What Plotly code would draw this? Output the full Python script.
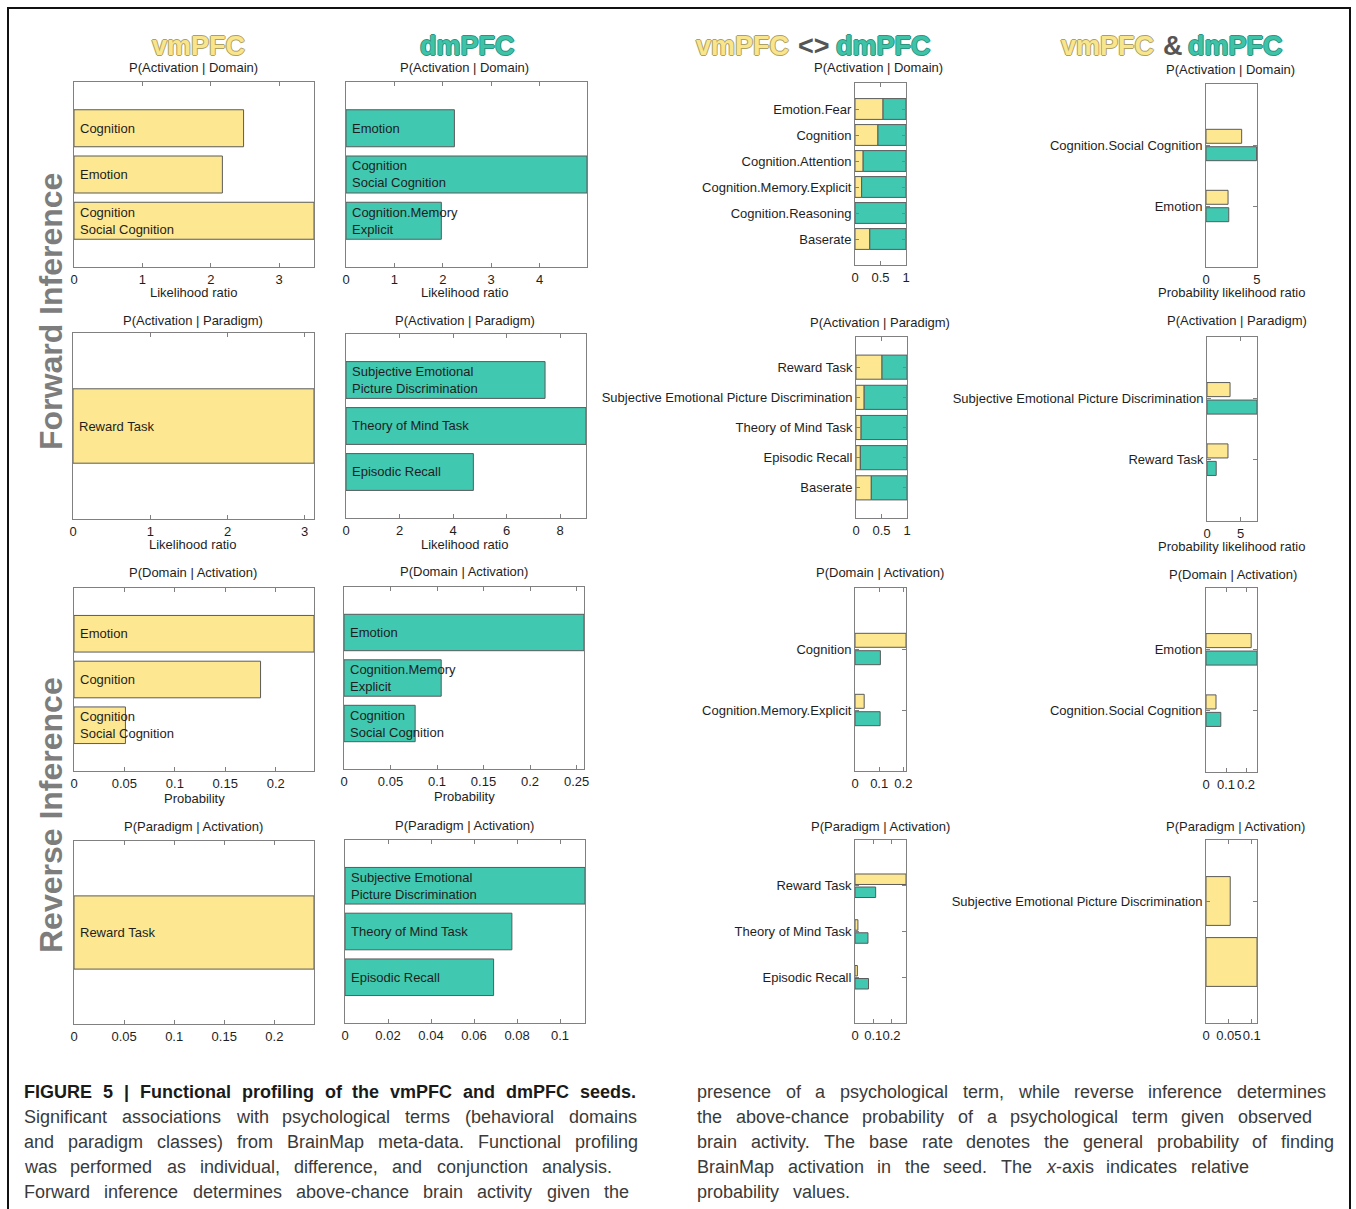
import re
import plotly.graph_objects as go

W, H = 1356, 1209
YEL = "#FDE891"
TEAL = "#41C8B1"
EDGE = "#5a5a5a"
AXC = "#808080"
TXT = "#1e1e1e"
FONT = "Liberation Sans, Arial, Helvetica, sans-serif"

# ---------------- data ----------------
# Forward inference, P(Activation | Domain)
vm_dom_fwd_labels = ["Cognition", "Emotion", "Cognition<br>Social Cognition"]
vm_dom_fwd = [2.48, 2.17, 3.51]
dm_dom_fwd_labels = ["Emotion", "Cognition<br>Social Cognition", "Cognition.Memory<br>Explicit"]
dm_dom_fwd = [2.24, 4.98, 1.97]
diff_dom_fwd_labels = ["Emotion.Fear", "Cognition", "Cognition.Attention",
                       "Cognition.Memory.Explicit", "Cognition.Reasoning", "Baserate"]
diff_dom_fwd_vm = [0.55, 0.45, 0.16, 0.13, 0.0, 0.29]
diff_dom_fwd_dm = [0.45, 0.55, 0.84, 0.87, 1.0, 0.71]
conj_dom_fwd_labels = ["Cognition.Social Cognition", "Emotion"]
conj_dom_fwd_vm = [3.51, 2.17]
conj_dom_fwd_dm = [4.98, 2.24]

# Forward inference, P(Activation | Paradigm)
vm_par_fwd_labels = ["Reward Task"]
vm_par_fwd = [3.12]
dm_par_fwd_labels = ["Subjective Emotional<br>Picture Discrimination", "Theory of Mind Task", "Episodic Recall"]
dm_par_fwd = [7.44, 8.97, 4.76]
diff_par_fwd_labels = ["Reward Task", "Subjective Emotional Picture Discrimination",
                       "Theory of Mind Task", "Episodic Recall", "Baserate"]
diff_par_fwd_vm = [0.51, 0.16, 0.10, 0.085, 0.30]
diff_par_fwd_dm = [0.49, 0.84, 0.90, 0.915, 0.70]
conj_par_fwd_labels = ["Subjective Emotional Picture Discrimination", "Reward Task"]
conj_par_fwd_vm = [3.43, 3.12]
conj_par_fwd_dm = [7.44, 1.37]

# Reverse inference, P(Domain | Activation)
vm_dom_rev_labels = ["Emotion", "Cognition", "Cognition<br>Social Cognition"]
vm_dom_rev = [0.238, 0.185, 0.051]
dm_dom_rev_labels = ["Emotion", "Cognition.Memory<br>Explicit", "Cognition<br>Social Cognition"]
dm_dom_rev = [0.258, 0.1045, 0.0765]
diff_dom_rev_labels = ["Cognition", "Cognition.Memory.Explicit"]
diff_dom_rev_vm = [0.211, 0.038]
diff_dom_rev_dm = [0.105, 0.104]
conj_dom_rev_labels = ["Emotion", "Cognition.Social Cognition"]
conj_dom_rev_vm = [0.226, 0.050]
conj_dom_rev_dm = [0.255, 0.074]

# Reverse inference, P(Paradigm | Activation)
vm_par_rev_labels = ["Reward Task"]
vm_par_rev = [0.2396]
dm_par_rev_labels = ["Subjective Emotional<br>Picture Discrimination", "Theory of Mind Task", "Episodic Recall"]
dm_par_rev = [0.1116, 0.0776, 0.0691]
diff_par_rev_labels = ["Reward Task", "Theory of Mind Task", "Episodic Recall"]
diff_par_rev_vm = [0.279, 0.016, 0.013]
diff_par_rev_dm = [0.113, 0.071, 0.074]
conj_par_rev_labels = ["Subjective Emotional Picture Discrimination"]
conj_par_rev_vm = [0.053, 0.1116]

# tick values
ticks_A1 = [0, 1, 2, 3]
ticks_A2 = [0, 1, 2, 3, 4]
ticks_frac = [0, 0.5, 1]
ticks_conj_fwd = [0, 5]
ticks_B1 = [0, 1, 2, 3]
ticks_B2 = [0, 2, 4, 6, 8]
ticks_C1 = [0, 0.05, 0.1, 0.15, 0.2]
ticks_C2 = [0, 0.05, 0.1, 0.15, 0.2, 0.25]
ticks_C34 = [0, 0.1, 0.2]
ticks_D1 = [0, 0.05, 0.1, 0.15, 0.2]
ticks_D2 = [0, 0.02, 0.04, 0.06, 0.08, 0.1]
ticks_D3 = [0, 0.1, 0.2]
ticks_D4 = [0, 0.05, 0.1]

caption_left = [
    "FIGURE 5 | Functional profiling of the vmPFC and dmPFC seeds.",
    "Significant associations with psychological terms (behavioral domains",
    "and paradigm classes) from BrainMap meta-data. Functional profiling",
    "was performed as individual, difference, and conjunction analysis.",
    "Forward inference determines above-chance brain activity given the",
]
caption_right = [
    "presence of a psychological term, while reverse inference determines",
    "the above-chance probability of a psychological term given observed",
    "brain activity. The base rate denotes the general probability of finding",
    "BrainMap activation in the seed. The <i>x</i>-axis indicates relative",
    "probability values.",
]

# ---------------- helpers ----------------
fig = go.Figure()
_axn = [0]


def P(x, y):
    return x / W, 1 - y / H


def add_axes(box, n, xmax, xticks, ylabels=None, ytickpos=None):
    _axn[0] += 1
    i = _axn[0]
    s = "" if i == 1 else str(i)
    x0, x1, y0, y1 = box
    pos = ytickpos if ytickpos is not None else list(range(1, n + 1))
    common = dict(showline=True, linecolor=AXC, linewidth=1, mirror="allticks",
                  ticklen=4, tickcolor=AXC, tickwidth=1,
                  showgrid=False, zeroline=False, fixedrange=True,
                  automargin=False, tickfont=dict(family=FONT, size=13, color=TXT))
    fig.update_layout(**{
        "xaxis" + s: dict(domain=[x0 / W, x1 / W], anchor="y" + s, range=[0, xmax],
                          ticks="inside", tickmode="array", tickvals=xticks, tickangle=0,
                          **common),
        "yaxis" + s: dict(domain=[1 - y1 / H, 1 - y0 / H], anchor="x" + s, range=[n + 1, 0],
                          ticks="inside" if ylabels else "",
                          tickmode="array", tickvals=pos,
                          ticktext=ylabels if ylabels else [""] * len(pos),
                          showticklabels=bool(ylabels), **common),
    })
    return "x" + s, "y" + s


def bars(xa, ya, vals, color, offset, width, base=None):
    fig.add_trace(go.Bar(x=vals, y=list(range(1, len(vals) + 1)), orientation="h",
                         xaxis=xa, yaxis=ya, base=base, offset=offset, width=width,
                         marker=dict(color=color, line=dict(color=EDGE, width=1)),
                         hoverinfo="skip", showlegend=False))


def inbar(xa, ya, labels):
    for k, lab in enumerate(labels):
        fig.add_annotation(xref=xa, yref=ya, x=0, y=k + 1, text=lab, xanchor="left",
                           yanchor="middle", xshift=4, showarrow=False, align="left",
                           font=dict(family=FONT, size=13, color=TXT))


def ptext(x, y, text, size=13, color=TXT, anchor="center", **fkw):
    px, py = P(x, y)
    fig.add_annotation(xref="paper", yref="paper", x=px, y=py, text=text, xanchor=anchor,
                       yanchor="middle", showarrow=False,
                       font=dict(family=FONT, size=size, color=color, **fkw))


def single_panel(box, labels, vals, color, xmax, xticks, title, tpos, xlabel=None, lpos=None):
    n = len(vals)
    xa, ya = add_axes(box, n, xmax, xticks)
    bars(xa, ya, vals, color, -0.4, 0.8)
    inbar(xa, ya, labels)
    ptext(tpos[0], tpos[1], title)
    if xlabel:
        ptext(lpos[0], lpos[1], xlabel)


def stacked_panel(box, labels, vm, dm, title, tpos):
    xa, ya = add_axes(box, len(vm), 1.0, ticks_frac, ylabels=labels)
    bars(xa, ya, vm, YEL, -0.4, 0.8)
    bars(xa, ya, dm, TEAL, -0.4, 0.8, base=vm)
    ptext(tpos[0], tpos[1], title)


def grouped_panel(box, labels, vm, dm, xmax, xticks, title, tpos, xlabel=None, lpos=None):
    xa, ya = add_axes(box, len(vm), xmax, xticks, ylabels=labels)
    bars(xa, ya, vm, YEL, -0.257, 0.229)
    bars(xa, ya, dm, TEAL, 0.028, 0.229)
    ptext(tpos[0], tpos[1], title)
    if xlabel:
        ptext(lpos[0], lpos[1], xlabel)


# ---------------- panels ----------------
T_AD = "P(Activation | Domain)"
T_AP = "P(Activation | Paradigm)"
T_DA = "P(Domain | Activation)"
T_PA = "P(Paradigm | Activation)"

single_panel((74, 314, 82, 267), vm_dom_fwd_labels, vm_dom_fwd, YEL, 3.51, ticks_A1,
             T_AD, (193, 68), "Likelihood ratio", (193, 293))
single_panel((346, 587, 82, 267), dm_dom_fwd_labels, dm_dom_fwd, TEAL, 4.98, ticks_A2,
             T_AD, (465, 68), "Likelihood ratio", (465, 293))
stacked_panel((855, 906, 83, 265), diff_dom_fwd_labels, diff_dom_fwd_vm, diff_dom_fwd_dm,
              T_AD, (879, 68))
grouped_panel((1206, 1257, 84, 267), conj_dom_fwd_labels, conj_dom_fwd_vm, conj_dom_fwd_dm,
              5.02, ticks_conj_fwd, T_AD, (1230, 70), "Probability likelihood ratio", (1231, 293))

single_panel((73, 314, 333, 519), vm_par_fwd_labels, vm_par_fwd, YEL, 3.12, ticks_B1,
             T_AP, (193, 320), "Likelihood ratio", (192, 545))
single_panel((346, 586, 334, 518), dm_par_fwd_labels, dm_par_fwd, TEAL, 8.97, ticks_B2,
             T_AP, (465, 320), "Likelihood ratio", (465, 545))
stacked_panel((856, 907, 337, 518), diff_par_fwd_labels, diff_par_fwd_vm, diff_par_fwd_dm,
              T_AP, (880, 322))
grouped_panel((1207, 1257, 337, 521), conj_par_fwd_labels, conj_par_fwd_vm, conj_par_fwd_dm,
              7.44, ticks_conj_fwd, T_AP, (1237, 321), "Probability likelihood ratio", (1231, 547))

single_panel((74, 314, 588, 771), vm_dom_rev_labels, vm_dom_rev, YEL, 0.238, ticks_C1,
             T_DA, (193, 573), "Probability", (194, 798))
single_panel((344, 584, 587, 769), dm_dom_rev_labels, dm_dom_rev, TEAL, 0.258, ticks_C2,
             T_DA, (464, 571), "Probability", (465, 796))
grouped_panel((855, 906, 588, 771), diff_dom_rev_labels, diff_dom_rev_vm, diff_dom_rev_dm,
              0.211, ticks_C34, T_DA, (880, 573))
grouped_panel((1206, 1257, 588, 772), conj_dom_rev_labels, conj_dom_rev_vm, conj_dom_rev_dm,
              0.255, ticks_C34, T_DA, (1233, 575))

single_panel((74, 314, 841, 1024), vm_par_rev_labels, vm_par_rev, YEL, 0.2396, ticks_D1,
             T_PA, (193, 826))
single_panel((345, 585, 840, 1023), dm_par_rev_labels, dm_par_rev, TEAL, 0.1116, ticks_D2,
             T_PA, (464, 825))
grouped_panel((855, 906, 840, 1023), diff_par_rev_labels, diff_par_rev_vm, diff_par_rev_dm,
              0.279, ticks_D3, T_PA, (880, 826))
# conjunction reverse paradigm: one series of two bars
xa, ya = add_axes((1206, 1257, 840, 1023), 2, 0.1116, ticks_D4,
                  ylabels=conj_par_rev_labels, ytickpos=[1])
bars(xa, ya, conj_par_rev_vm, YEL, -0.4, 0.8)
ptext(1235, 826, T_PA)

# ---------------- headers ----------------
def outline(c):
    return f"1px 0 0 {c}, -1px 0 0 {c}, 0 1px 0 {c}, 0 -1px 0 {c}"

HY, HT = "#F8E58C", "#3FC3A6"
SY, ST = outline("#ADA065"), outline("#2A9580")
ptext(198, 46, "vmPFC", 27, HY, "center", weight=700, shadow=SY)
ptext(467, 46, "dmPFC", 27, HT, "center", weight=700, shadow=ST)
ptext(694, 46, "vmPFC", 27, HY, "left", weight=700, shadow=SY)
ptext(796, 46, "<>", 27, "#555555", "left", weight=700)
ptext(834, 46, "dmPFC", 27, HT, "left", weight=700, shadow=ST)
ptext(1059, 46, "vmPFC", 27, HY, "left", weight=700, shadow=SY)
ptext(1161, 46, "&", 27, "#555555", "left", weight=700)
ptext(1186, 46, "dmPFC", 27, HT, "left", weight=700, shadow=ST)

for txt, yc in (("Forward Inference", 312), ("Reverse Inference", 815)):
    px, py = P(51, yc)
    fig.add_annotation(xref="paper", yref="paper", x=px, y=py, text=txt, textangle=-90,
                       xanchor="center", yanchor="middle", showarrow=False,
                       font=dict(family=FONT, size=32, color="#7d7d7d", weight=700))

# ---------------- caption ----------------
REG = {' ': 278, ',': 278, '.': 278, '-': 333, '(': 333, ')': 333, '|': 260}
for c, w in zip("ABCDEFGHIJKLMNOPQRSTUVWXYZ",
                [667, 667, 722, 722, 667, 611, 778, 722, 278, 500, 667, 556, 833, 722, 778,
                 667, 778, 722, 667, 611, 722, 667, 944, 667, 667, 611]):
    REG[c] = w
for c, w in zip("abcdefghijklmnopqrstuvwxyz",
                [556, 556, 500, 556, 556, 278, 556, 556, 222, 222, 500, 222, 833, 556, 556,
                 556, 556, 333, 500, 278, 556, 500, 722, 500, 500, 500]):
    REG[c] = w
BOLD = {' ': 278, ',': 278, '.': 278, '-': 333, '|': 280}
for c, w in zip("ABCDEFGHIJKLMNOPQRSTUVWXYZ",
                [722, 722, 722, 722, 667, 611, 778, 722, 278, 556, 722, 611, 833, 722, 778,
                 667, 778, 722, 667, 611, 722, 667, 944, 667, 667, 611]):
    BOLD[c] = w
for c, w in zip("abcdefghijklmnopqrstuvwxyz",
                [556, 611, 556, 611, 556, 333, 611, 611, 278, 278, 556, 278, 889, 611, 611,
                 611, 611, 389, 556, 333, 611, 556, 778, 556, 556, 500]):
    BOLD[c] = w

CAP = 18


def tw(s, bold=False):
    s = re.sub(r"<[^>]+>", "", s)
    t = BOLD if bold else REG
    return sum(t.get(c, 556) for c in s) * CAP / 1000.0


def cap_line(text, x0, x1, yc, bold=False):
    words = text.split(" ")
    widths = [tw(w, bold) for w in words]
    gap = (x1 - x0 - sum(widths)) / max(len(words) - 1, 1)
    gap = max(gap, 0.22 * CAP)
    x = x0
    col = "#1a1a1a" if bold else "#3a3a3a"
    for w, wd in zip(words, widths):
        px, py = P(x, yc)
        fig.add_annotation(xref="paper", yref="paper", x=px, y=py, text=w, xanchor="left",
                           yanchor="middle", showarrow=False, borderpad=0, borderwidth=0,
                           font=dict(family=FONT, size=CAP, color=col,
                                     weight=700 if bold else 400))
        x += wd + gap


left_ends = [636, 637, 638, 612, 629]
right_ends = [1326, 1312, 1334, 1249, 850]
for k, line in enumerate(caption_left):
    cap_line(line, 24, left_ends[k], 1092 + 25 * k, bold=(k == 0))
for k, line in enumerate(caption_right):
    cap_line(line, 697, right_ends[k], 1092 + 25 * k)

# frame
fig.add_shape(type="rect", xref="paper", yref="paper", x0=8 / W, x1=1350 / W,
              y0=-0.02, y1=1 - 8 / H, line=dict(color="#111111", width=2))

fig.update_layout(width=W, height=H, margin=dict(l=0, r=0, t=0, b=0), template="none",
                  paper_bgcolor="white", plot_bgcolor="white", barmode="overlay",
                  showlegend=False, font=dict(family=FONT, color=TXT))

fig.write_html("out.html", config={"displayModeBar": False},
               post_script="document.body.style.margin='0';")
